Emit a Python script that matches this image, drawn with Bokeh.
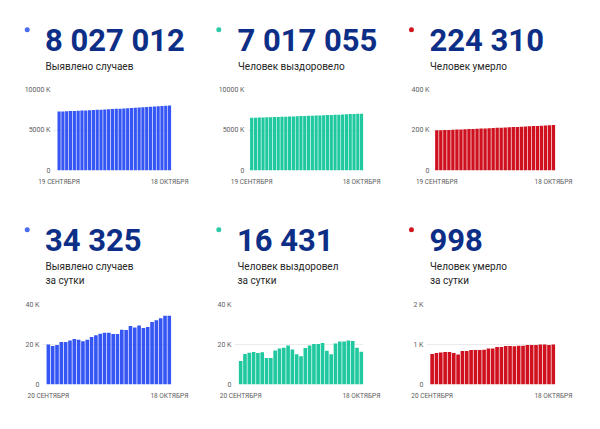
from bokeh.plotting import figure
from bokeh.layouts import column, row
from bokeh.models import Range1d, FixedTicker, CustomJSTickFormatter, ColumnDataSource
from bokeh.core.properties import value
from bokeh.embed import file_html
from bokeh.resources import INLINE

FONT = "Roboto"
NAVY = "#0d2e86"
CAPTION = "#262626"
TICK_TEXT = "#5c5c5c"
GRID = "#ebebeb"

BLUE, BLUE_DOT = "#3656f4", "#4a6bf0"
TEAL, TEAL_DOT = "#1fc89e", "#2ccaa6"
RED, RED_DOT = "#cf111f", "#d0141f"

# Running totals, 19 September - 18 October
total_dates = ["19 СЕНТЯБРЯ", "18 ОКТЯБРЯ"]
total_cases = [
    7274000, 7294000, 7313000, 7333000, 7354000, 7375000, 7397000, 7420000,
    7442000, 7464000, 7486000, 7510000, 7535000, 7560000, 7586000, 7612000,
    7637000, 7662000, 7690000, 7717000, 7746000, 7775000, 7804000, 7832000,
    7861000, 7892000, 7924000, 7957000, 7993000, 8027012,
]
total_recovered = [
    6507000, 6519000, 6534000, 6550000, 6566000, 6582000, 6598000, 6611000,
    6625000, 6642000, 6660000, 6678000, 6698000, 6715000, 6730000, 6744000,
    6763000, 6782000, 6802000, 6823000, 6843000, 6860000, 6875000, 6896000,
    6917000, 6939000, 6961000, 6982000, 7001000, 7017055,
]
total_deaths = [
    198200, 199000, 199800, 200600, 201400, 202200, 203000, 203700,
    204600, 205400, 206300, 207100, 208000, 208900, 209800, 210700,
    211600, 212600, 213500, 214500, 215400, 216400, 217400, 218400,
    219300, 220300, 221300, 222300, 223300, 224310,
]

# Daily figures, 20 September - 18 October
daily_dates = ["20 СЕНТЯБРЯ", "18 ОКТЯБРЯ"]
daily_cases = [
    19950, 19200, 19700, 21300, 21300, 22000, 22700, 22400, 21600, 22400,
    23800, 24600, 25400, 25900, 25900, 25200, 25200, 27400, 27200, 29300,
    28500, 29500, 28200, 28700, 31300, 32100, 33100, 34400, 34325,
]
daily_recovered = [
    11800, 15200, 15900, 16200, 15700, 16100, 13300, 13300, 17000, 18000,
    18400, 19500, 17500, 15100, 14100, 18200, 19500, 20200, 20300, 20800,
    16900, 15100, 20500, 21500, 21500, 22000, 21700, 18400, 16431,
]
daily_deaths = [
    760, 790, 800, 815, 810, 790, 750, 840, 840, 865,
    865, 865, 870, 900, 900, 940, 940, 960, 960, 955,
    970, 970, 985, 985, 990, 1000, 1000, 990, 998,
]

captions = {
    "cases": ["Выявлено случаев"],
    "recovered": ["Человек выздоровело"],
    "deaths": ["Человек умерло"],
    "cases_day": ["Выявлено случаев", "за сутки"],
    "recovered_day": ["Человек выздоровел", "за сутки"],
    "deaths_day": ["Человек умерло", "за сутки"],
}

y_max = {
    "cases": 10000000, "recovered": 10000000, "deaths": 400000,
    "cases_day": 40000, "recovered_day": 40000, "deaths_day": 2000,
}


def fmt_total(v):
    return f"{v:,}".replace(",", " ")


def header(height, dot_x, text_x, number, lines, dot_color):
    h = figure(width=200, height=height, x_range=Range1d(0, 200),
               y_range=Range1d(height, 0), x_axis_type=None, y_axis_type=None,
               toolbar_location=None, output_backend="svg", min_border=0)
    h.outline_line_color = None
    h.background_fill_color = "white"
    h.border_fill_color = "white"
    h.scatter(x=[dot_x], y=[29.3], size=5, color=dot_color, line_color=None)
    h.text(x=[text_x], y=[39.5], text=[number], text_font=value(FONT),
           text_font_style="bold", text_font_size="31px", text_color=NAVY,
           text_baseline="alphabetic")
    h.text(x=[text_x + 0.5] * len(lines),
           y=[65.5 + 14.5 * i for i in range(len(lines))], text=lines,
           text_font=value(FONT), text_font_size="10px", text_color=CAPTION,
           text_baseline="alphabetic")
    return h


def bars(values, color, ymax, dates, height, top, bottom, left, right, x_start):
    n = len(values)
    src = ColumnDataSource(dict(x=list(range(n)), top=values))
    p = figure(width=200, height=height, x_range=Range1d(x_start, n - 0.5),
               y_range=Range1d(0, ymax), toolbar_location=None,
               output_backend="svg", min_border_top=top,
               min_border_bottom=bottom, min_border_left=left,
               min_border_right=right)
    p.outline_line_color = None
    p.background_fill_color = "white"
    p.border_fill_color = "white"
    p.vbar(x="x", top="top", width=0.84, source=src, fill_color=color,
           line_color=None)

    p.xgrid.grid_line_color = None
    p.ygrid.grid_line_color = GRID

    p.yaxis.ticker = FixedTicker(ticks=[0, ymax / 2, ymax])
    p.yaxis.formatter = CustomJSTickFormatter(
        code="return tick == 0 ? '0' : (tick / 1000).toFixed(0) + ' K';")
    p.xaxis.ticker = FixedTicker(ticks=[0, n - 1])
    p.xaxis.formatter = CustomJSTickFormatter(
        args=dict(a=dates[0], b=dates[1]), code="return tick == 0 ? a : b;")

    for ax in (p.xaxis, p.yaxis):
        ax.axis_line_color = None
        ax.major_tick_line_color = None
        ax.minor_tick_line_color = None
        ax.major_tick_out = 0
        ax.major_tick_in = 0
        ax.major_label_text_font = FONT
        ax.major_label_text_color = TICK_TEXT
    p.yaxis.major_label_text_font_size = "7px"
    p.yaxis.major_label_standoff = 3
    p.xaxis.major_label_text_font_size = "6.5px"
    p.xaxis.major_label_standoff = 7
    return p


def card(head, chart):
    # each part in its own row so the two plot frames are laid out independently
    return column(row(head), row(chart))


# top row: running totals
h1 = header(80, 26.7, 44.5, fmt_total(total_cases[-1]), captions["cases"], BLUE_DOT)
h2 = header(80, 18.3, 37.0, fmt_total(total_recovered[-1]), captions["recovered"], TEAL_DOT)
h3 = header(80, 11.0, 29.0, fmt_total(total_deaths[-1]), captions["deaths"], RED_DOT)

c1 = bars(total_cases, BLUE, y_max["cases"], total_dates, 120, 9, 30, 53, 29, -1.47)
c2 = bars(total_recovered, TEAL, y_max["recovered"], total_dates, 120, 9, 30, 47, 37, -1.1)
c3 = bars(total_deaths, RED, y_max["deaths"], total_dates, 120, 9, 30, 32, 45, -1.07)

# bottom row: daily figures
h4 = header(90, 26.7, 44.5, fmt_total(daily_cases[-1]), captions["cases_day"], BLUE_DOT)
h5 = header(90, 18.3, 36.5, fmt_total(daily_recovered[-1]), captions["recovered_day"], TEAL_DOT)
h6 = header(90, 11.0, 29.0, fmt_total(daily_deaths[-1]), captions["deaths_day"], RED_DOT)

c4 = bars(daily_cases, BLUE, y_max["cases_day"], daily_dates, 139, 14, 45, 42, 29, -1.36)
c5 = bars(daily_recovered, TEAL, y_max["recovered_day"], daily_dates, 139, 14, 45, 34, 37, -1.43)
c6 = bars(daily_deaths, RED, y_max["deaths_day"], daily_dates, 139, 14, 45, 26, 45, -1.3)

page = column(
    row(card(h1, c1), card(h2, c2), card(h3, c3)),
    row(card(h4, c4), card(h5, c5), card(h6, c6)),
)

open("out.html", "w").write(file_html(page, INLINE))
